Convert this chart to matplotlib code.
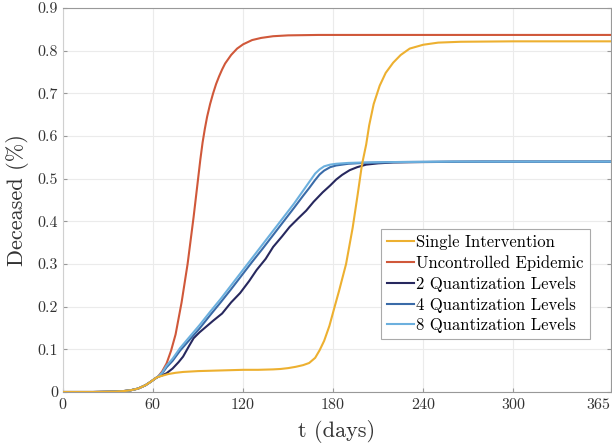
import matplotlib
matplotlib.use("Agg")
import matplotlib.pyplot as plt
import numpy as np

# shared part of every run before control starts (day, deceased %)
t_pre = [0, 20, 35, 40, 45, 50, 55, 58, 60, 62, 63]
d_pre = [0.0, 0.0, 0.001, 0.002, 0.004, 0.008, 0.016, 0.023, 0.028, 0.033, 0.035]

t_single = [66, 70, 75, 80, 90, 100, 110, 120, 130, 140, 145, 150, 155, 160, 164,
            168, 171, 174, 177.5, 181, 184, 188.6, 193, 196.3, 199.2, 202, 204,
            207, 211, 215, 220, 225, 231, 240, 250, 265, 300, 365]
d_single = [0.038, 0.042, 0.045, 0.047, 0.049, 0.050, 0.051, 0.052, 0.052, 0.053,
            0.054, 0.056, 0.059, 0.063, 0.068, 0.080, 0.098, 0.120, 0.155, 0.200,
            0.238, 0.300, 0.385, 0.462, 0.533, 0.580, 0.625, 0.675, 0.718, 0.748,
            0.772, 0.790, 0.805, 0.814, 0.819, 0.821, 0.822, 0.822]

t_unctrl = [66, 69, 72, 75, 79, 83, 87, 90, 91.5, 93, 94.5, 96, 98, 100, 102, 104,
            106, 108, 112, 116, 120, 126, 132, 140, 150, 170, 365]
d_unctrl = [0.048, 0.067, 0.097, 0.135, 0.210, 0.300, 0.410, 0.500, 0.545, 0.585,
            0.617, 0.645, 0.675, 0.700, 0.722, 0.740, 0.756, 0.770, 0.790, 0.805,
            0.815, 0.825, 0.830, 0.834, 0.836, 0.837, 0.837]

t_q2 = [66, 69, 73, 77, 80, 84, 87, 91, 95, 100, 106, 112, 118, 124, 129, 135,
        140, 146, 151, 157, 162, 167, 173, 178, 182, 186, 191, 196, 202, 210, 220,
        240, 280, 365]
d_q2 = [0.039, 0.044, 0.055, 0.070, 0.083, 0.108, 0.126, 0.140, 0.152, 0.167,
        0.184, 0.210, 0.232, 0.260, 0.286, 0.312, 0.340, 0.365, 0.387, 0.408,
        0.425, 0.446, 0.468, 0.484, 0.498, 0.509, 0.520, 0.527, 0.533, 0.536,
        0.538, 0.539, 0.540, 0.540]

t_q = [66, 69, 73, 78, 84, 91, 98, 105, 112, 119, 126, 133, 140, 147, 154, 160,
       164, 168, 171, 174, 178, 182, 190, 200, 220, 260, 365]
d_q4 = [0.043, 0.058, 0.073, 0.097, 0.121, 0.149, 0.180, 0.210, 0.241, 0.273,
        0.305, 0.336, 0.368, 0.400, 0.432, 0.460, 0.478, 0.497, 0.510, 0.519,
        0.527, 0.531, 0.535, 0.537, 0.539, 0.540, 0.540]
d_q8 = [0.045, 0.062, 0.078, 0.103, 0.128, 0.157, 0.188, 0.218, 0.250, 0.282,
        0.314, 0.346, 0.378, 0.410, 0.442, 0.472, 0.492, 0.512, 0.522, 0.529,
        0.533, 0.535, 0.537, 0.538, 0.539, 0.540, 0.540]

labels = ["Single Intervention", "Uncontrolled Epidemic", "2 Quantization Levels",
          "4 Quantization Levels", "8 Quantization Levels"]
colors = ["#EDB030", "#D0583A", "#27285E", "#3A6BA8", "#6CB0DE"]
x_ticks = [0, 60, 120, 180, 240, 300, 365]

plt.rcParams["font.family"] = "serif"
plt.rcParams["font.serif"] = ["cmr10", "DejaVu Serif"]
plt.rcParams["axes.formatter.use_mathtext"] = True

fig = plt.figure(figsize=(6.12, 4.48), dpi=100)
ax = fig.add_axes([0.103, 0.125, 0.895, 0.857])

series = [(t_single, d_single), (t_unctrl, d_unctrl), (t_q2, d_q2),
          (t_q, d_q4), (t_q, d_q8)]
for i, (t, d) in enumerate(series):
    ax.plot(t_pre + t, d_pre + d, color=colors[i], lw=1.5, label=labels[i],
            zorder=4 if i == 0 else 3)

ax.set_xlim(0, 365)
ax.set_ylim(0, 0.9)
ax.set_xticks(x_ticks)
ax.set_yticks(np.arange(0, 0.91, 0.1))
ax.set_yticklabels(["0"] + ["%.1f" % v for v in np.arange(0.1, 0.91, 0.1)])
ax.grid(True, color="#ebebeb", lw=0.8)
ax.set_axisbelow(True)
ax.tick_params(direction="in", length=3, labelsize=11.5, colors="#999999",
               labelcolor="#333333", right=True, top=False)
# last x label sits inside the figure edge, like the original
ax.get_xticklabels()[-1].set_horizontalalignment("right")
for name, sp in ax.spines.items():
    sp.set_color("#d0d0d0" if name == "left" else "#999999")
    sp.set_linewidth(0.8)

ax.set_xlabel("t (days)", fontsize=16, color="#333333", labelpad=6)
ax.set_ylabel("Deceased (%)", fontsize=16, color="#333333", labelpad=6)

leg = ax.legend(loc="upper left", bbox_to_anchor=(0.581, 0.4245), borderaxespad=0,
                fontsize=12, handlelength=1.6, handletextpad=0.15,
                labelspacing=0.32, borderpad=0.35, fancybox=False, framealpha=1)
leg.get_frame().set_edgecolor("#aaaaaa")
leg.get_frame().set_linewidth(0.8)

fig.savefig("out.png", dpi=100)
